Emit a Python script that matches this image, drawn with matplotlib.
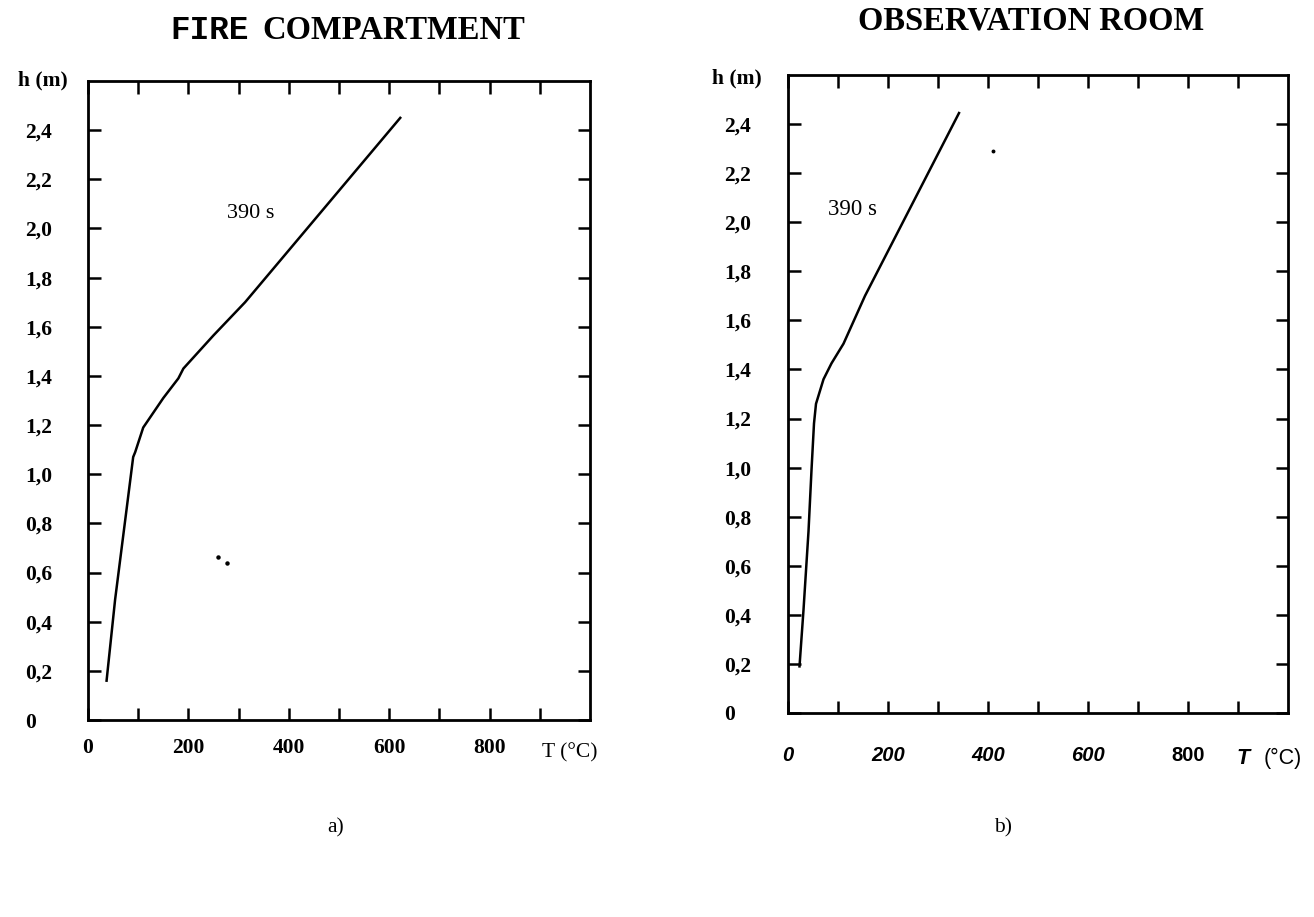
import matplotlib
matplotlib.use("Agg")
import matplotlib.pyplot as plt

# panel a) fire compartment, 390 s profile
fire_T = [37, 54, 77, 90, 94, 110, 150, 180, 190, 250, 313, 622]
fire_h = [0.16, 0.49, 0.86, 1.07, 1.09, 1.19, 1.31, 1.39, 1.43, 1.565, 1.70, 2.45]

# panel b) observation room, 390 s profile
obs_T = [23, 31, 41, 47, 52, 56, 71, 87, 111, 154, 342]
obs_h = [0.19, 0.42, 0.74, 0.99, 1.18, 1.26, 1.36, 1.425, 1.505, 1.70, 2.445]

# scan specks
fire_specks_T = [258, 277]
fire_specks_h = [0.665, 0.638]
obs_specks_T = [410]
obs_specks_h = [2.29]

x_ticks = [0, 100, 200, 300, 400, 500, 600, 700, 800, 900]
x_labels = ["0", "", "200", "", "400", "", "600", "", "800", ""]
y_ticks = [0, 0.2, 0.4, 0.6, 0.8, 1.0, 1.2, 1.4, 1.6, 1.8, 2.0, 2.2, 2.4]
y_labels = ["0", "0,2", "0,4", "0,6", "0,8", "1,0", "1,2", "1,4", "1,6", "1,8", "2,0", "2,2", "2,4"]

W, H = 1314, 917
fig = plt.figure(figsize=(W / 100, H / 100), dpi=100)


def px_axes(left, top, right, bottom):
    return fig.add_axes([left / W, 1 - bottom / H, (right - left) / W, (bottom - top) / H])


def style_axes(ax, ylab_pad, xlab_pad):
    ax.set_xlim(0, 1000)
    ax.set_ylim(0, 2.6)
    for s in ax.spines.values():
        s.set_linewidth(2.0)
    ax.set_xticks(x_ticks)
    ax.set_xticklabels(x_labels)
    ax.set_yticks(y_ticks)
    ax.set_yticklabels(y_labels)
    ax.tick_params(direction="in", length=9, width=1.8, top=True, right=True)
    ax.tick_params(axis="y", pad=ylab_pad)
    ax.tick_params(axis="x", pad=xlab_pad)
    for t in ax.get_yticklabels():
        t.set_horizontalalignment("left")
        t.set_family("Liberation Serif")
        t.set_fontweight("bold")
        t.set_fontsize(15.5)


# ---- a) FIRE COMPARTMENT
ax1 = px_axes(88, 81, 590, 720)
style_axes(ax1, 45, 13)
for t in ax1.get_xticklabels():
    t.set_family("Liberation Serif")
    t.set_fontweight("bold")
    t.set_fontsize(15.5)
ax1.plot(fire_T, fire_h, color="black", lw=1.8)
ax1.plot(fire_specks_T, fire_specks_h, "o", color="black", ms=2.2)
ax1.text(325, 2.06, "390 s", family="Liberation Serif", fontsize=16, ha="center", va="center")
ax1.text(960, -0.052, "T (°C)", transform=ax1.get_xaxis_transform(),
         family="Liberation Serif", fontsize=15.5, ha="center", va="center")

# ---- b) OBSERVATION ROOM
ax2 = px_axes(788, 75, 1288, 713)
style_axes(ax2, 46, 24)
for t in ax2.get_xticklabels():
    t.set_family("Liberation Sans")
    t.set_fontweight("bold")
    t.set_fontsize(14.5)
    if t.get_text() != "800":
        t.set_fontstyle("italic")
ax2.plot(obs_T, obs_h, color="black", lw=1.8)
ax2.plot(obs_specks_T, obs_specks_h, "o", color="black", ms=1.8)
ax2.text(128, 2.05, "390 s", family="Liberation Serif", fontsize=16.5, ha="center", va="center")
ax2.text(910, -0.072, "T", transform=ax2.get_xaxis_transform(), family="Liberation Sans",
         fontweight="bold", fontstyle="italic", fontsize=15.5, ha="center", va="center")
ax2.text(990, -0.072, "(°C)", transform=ax2.get_xaxis_transform(), family="Liberation Sans",
         fontsize=15.5, ha="center", va="center")

# titles and labels
fig.text(170 / W, 1 - 39 / H, "FIRE", family="Liberation Mono", fontweight="bold", fontsize=23.5,
         ha="left", va="baseline")
fig.text(262 / W, 1 - 39 / H, "COMPARTMENT", family="Liberation Serif", fontweight="bold",
         fontsize=23.5, ha="left", va="baseline")
fig.text(1031 / W, 1 - 30 / H, "OBSERVATION ROOM", family="Liberation Serif", fontweight="bold",
         fontsize=23.5, ha="center", va="baseline")
fig.text(18 / W, 1 - 80 / H, "h (m)", family="Liberation Serif", fontweight="bold", fontsize=15.5,
         ha="left", va="center")
fig.text(712 / W, 1 - 78 / H, "h (m)", family="Liberation Serif", fontweight="bold", fontsize=15.5,
         ha="left", va="center")
fig.text(336 / W, 1 - 828 / H, "a)", family="Liberation Serif", fontsize=15.5, ha="center", va="center")
fig.text(1003 / W, 1 - 828 / H, "b)", family="Liberation Serif", fontsize=15.5, ha="center", va="center")

fig.savefig("out.png", dpi=100, facecolor="white")
